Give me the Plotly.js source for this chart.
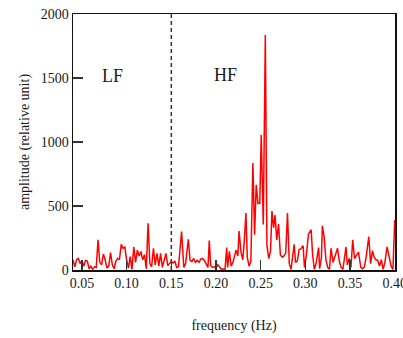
<!DOCTYPE html>
<html>
<head>
<meta charset="utf-8">
<script src="https://cdn.plot.ly/plotly-3.0.1.min.js"></script>
<style>html,body{margin:0;padding:0;background:#fff;}#chart{width:403px;height:338px;}</style>
</head>
<body>
<div id="chart"></div>
<script>
var frequency = [
0.040,0.042,0.044,0.046,0.048,0.050,0.052,0.054,0.056,0.058,
0.060,0.062,0.064,0.066,0.068,0.070,0.072,0.074,0.076,0.078,
0.080,0.082,0.084,0.086,0.088,0.090,0.092,0.094,0.096,0.098,
0.100,0.102,0.104,0.106,0.108,0.110,0.112,0.114,0.116,0.118,
0.120,0.122,0.124,0.126,0.128,0.130,0.132,0.134,0.136,0.138,
0.140,0.142,0.144,0.146,0.148,0.150,0.152,0.154,0.156,0.158,
0.1615,0.164,0.166,0.169,0.171,0.173,0.175,0.177,0.179,0.181,
0.183,0.185,0.187,0.189,0.191,0.1925,0.194,0.196,0.198,0.200,
0.202,0.204,0.206,0.208,0.210,0.212,0.213,0.215,0.217,0.219,
0.2225,0.2245,0.2258,0.228,0.230,0.2315,0.2335,0.235,0.237,0.239,
0.2413,0.2432,0.245,0.247,0.249,0.2506,0.2529,0.2552,0.257,0.259,
0.261,0.2626,0.2645,0.266,0.268,0.270,0.272,0.274,0.276,0.278,
0.280,0.282,0.284,0.2875,0.289,0.291,0.293,0.295,0.2975,0.299,
0.301,0.3035,0.3065,0.308,0.310,0.312,0.3148,0.316,0.318,0.319,
0.321,0.323,0.325,0.327,0.3287,0.331,0.333,0.336,0.338,0.340,
0.342,0.3455,0.347,0.349,0.351,0.353,0.355,0.357,0.3595,0.362,
0.364,0.366,0.368,0.371,0.373,0.375,0.377,0.379,0.381,0.383,
0.385,0.387,0.389,0.3914,0.394,0.396,0.398,0.400,0.402
];
var amplitude = [
80,25,80,90,50,75,30,75,70,10,
30,5,25,20,235,60,40,125,80,15,
30,135,40,10,70,90,85,200,170,180,
80,15,105,5,180,60,155,110,145,80,
120,10,365,50,25,170,40,130,30,130,
20,90,130,35,50,65,55,70,20,25,
300,20,50,240,75,65,90,60,75,60,
85,90,75,50,20,230,35,20,25,15,
40,25,5,10,0,175,20,145,30,60,
155,110,305,140,80,210,445,100,30,65,
835,275,665,520,520,1055,355,1835,190,90,
150,460,330,430,235,360,120,100,110,130,
445,50,5,200,60,70,160,165,190,20,
110,280,315,130,5,50,175,10,100,345,
260,80,20,5,170,60,100,170,70,20,
5,180,40,90,20,235,90,110,140,20,
10,25,100,260,50,150,100,80,75,30,
80,5,60,180,100,30,5,390,250
];
var xTickVals = [0.05,0.10,0.15,0.20,0.25,0.30,0.35,0.40];
var xTickText = ["0.05","0.10","0.15","0.20","0.25","0.30","0.35","0.40"];
var yTickVals = [0,500,1000,1500,2000];
var bandBoundary = 0.15;
var bandLabels = ["LF","HF"];
var bandLabelX = [0.0837,0.2111];
var bandLabelY = [1515,1523];

var serif = "Liberation Serif, Times New Roman, serif";

var trace = {
  x: frequency, y: amplitude, type: "scatter", mode: "lines",
  line: {color: "#ff0000", width: 1.5}, cliponaxis: true, hoverinfo: "skip"
};

var layout = {
  width: 403, height: 338,
  margin: {l: 73, r: 8, t: 14, b: 68},
  paper_bgcolor: "#ffffff", plot_bgcolor: "#ffffff",
  showlegend: false,
  font: {family: serif, color: "#222", size: 13},
  xaxis: {
    range: [0.04, 0.4003], tickvals: xTickVals, ticktext: xTickText,
    ticklabeloverflow: "allow",
    ticks: "inside", ticklen: 10, tickwidth: 1.5, tickcolor: "#333",
    showline: true, mirror: true, linecolor: "#111", linewidth: 1.5,
    showgrid: false, zeroline: false,
    tickfont: {family: serif, size: 14, color: "#1a1a1a"},
    title: {text: "frequency (Hz)", font: {family: serif, size: 14, color: "#1a1a1a"}, standoff: 30}
  },
  yaxis: {
    range: [0, 2000], tickvals: yTickVals,
    ticks: "inside", ticklen: 10, tickwidth: 1.5, tickcolor: "#333",
    showline: true, mirror: true, linecolor: "#111", linewidth: 1.5,
    showgrid: false, zeroline: false,
    tickfont: {family: serif, size: 14, color: "#1a1a1a"},
    title: {text: "amplitude (relative unit)", font: {family: serif, size: 14, color: "#1a1a1a"}, standoff: 8}
  },
  shapes: [{
    type: "line", xref: "x", yref: "y", x0: bandBoundary, x1: bandBoundary, y0: 0, y1: 2000,
    line: {color: "#333", width: 1.5, dash: "4px,3px"}
  }],
  annotations: bandLabels.map(function(t, i){
    return {text: t, x: bandLabelX[i], y: bandLabelY[i], xref: "x", yref: "y",
      showarrow: false, font: {family: serif, size: 18, color: "#1a1a1a"}};
  })
};

Plotly.newPlot("chart", [trace], layout, {staticPlot: true, displayModeBar: false});
</script>
</body>
</html>
